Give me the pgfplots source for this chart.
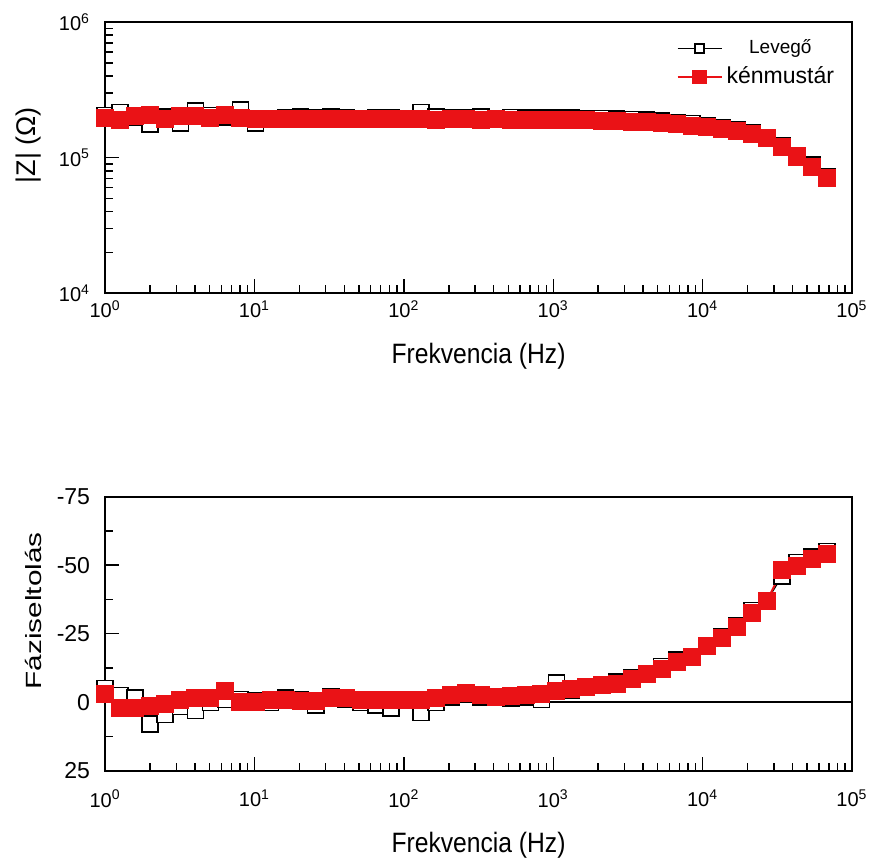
\documentclass[border=0pt]{standalone}
\usepackage{fontspec}
\setmainfont{Liberation Sans}
\newfontfamily\titlefont[FakeStretch=0.88]{Liberation Sans}
\newfontfamily\widefont[FakeStretch=1.35]{Liberation Sans}
\usepackage{pgfplots}
\usepackage{pgfplotstable}
\pgfplotsset{compat=1.18}
\definecolor{mred}{RGB}{234,18,22}

% f (Hz), |Z| air, |Z| mustard, phase air, phase mustard
\pgfplotstableread{
f zA zM pA pM
1 205000 196000 -5 -3
1.261 215000 190000 -2.5 2
1.590 200000 203000 -1.5 2
2.005 178000 208000 8 1.5
2.528 200000 193000 4.5 0.5
3.188 180000 203000 1.5 -1
4.020 220000 202000 3 -1.5
5.069 205000 196000 0 -1.5
6.392 200000 206000 -1 -4
8.060 225000 195000 -1 0
10.16 180000 194000 -0.5 0
12.81 195000 193000 0 -1
16.16 198000 192000 -1.5 -1
20.38 199000 193000 -1 -0.5
25.69 196000 192000 1 -0.5
32.40 200000 193000 -2 -1.5
40.86 198000 192000 -1 -1.5
51.52 195000 192000 0 -1
64.96 196000 193000 1 -1
81.91 197000 192000 2 -1
103.3 194000 193000 -1 -1
130.2 215000 192000 3.7 -1
164.2 200000 191000 0 -1.5
207.1 198000 193000 -2 -2.5
261.1 196000 192000 -3 -3.3
329.3 199000 191000 -2 -2.5
415.2 195000 192000 -2 -2
523.6 198000 191000 -1.5 -2.3
660.2 196000 191000 -2 -2.5
832.5 197000 190000 -1 -3.2
1050 196000 190000 -7 -4.2
1324 196000 189000 -4.5 -5
1669 195000 188000 -5.5 -5.5
2105 194000 187000 -6.5 -6.2
2654 193000 186000 -7.5 -6.8
3347 191000 184000 -9 -8.6
4220 189000 182000 -10.5 -10.4
5321 186000 179000 -13 -12.2
6710 182000 176000 -15.5 -14.8
8461 178000 172000 -16.5 -16.6
10666 173000 168000 -20.5 -20.6
13450 167000 163000 -24 -23.5
16961 160000 157000 -28 -27.5
21387 152000 149000 -33.5 -32.6
26968 141000 139000 -37 -37
34006 122000 120000 -46 -48.1
42880 104000 102000 -51 -49.6
54070 88000 86000 -53 -52.4
68181 72000 71000 -55 -54.2
}\data

\pgfplotsset{every axis/.append style={
    scale only axis, width=373pt,
    xmin=1, xmax=1e5,
    clip=false,
    axis line style={line width=1pt},
    tick align=inside, xtick pos=bottom, ytick pos=left,
    major tick length=7pt, minor tick length=4pt,
    every tick/.style={black, line width=0.7pt},
    xtick={1,10,100,1000,10000,100000},
    minor xtick={2,3,4,5,6,7,8,9,20,30,40,50,60,70,80,90,200,300,400,500,600,700,800,900,2000,3000,4000,5000,6000,7000,8000,9000,20000,30000,40000,50000,60000,70000,80000,90000},
    xticklabels={10\textsuperscript{0},10\textsuperscript{1},10\textsuperscript{2},10\textsuperscript{3},10\textsuperscript{4},10\textsuperscript{5}},
    xticklabel style={font=\fontsize{10}{12}\selectfont},
    yticklabel style={xshift=-4pt},
    xlabel={Frekvencia (Hz)},
    xlabel style={font=\titlefont\fontsize{14}{16}\selectfont, at={(axis description cs:0.5,0)}, anchor=center},
}}

\begin{document}
\begin{tikzpicture}
\useasboundingbox (-52.5pt,-284.5pt) rectangle (384pt,146.5pt);

\begin{loglogaxis}[
  at={(0pt,0pt)}, anchor=south west, height=135.5pt,
  ymin=1e4, ymax=1e6,
  ytick={1e4,1e5,1e6},
  minor ytick={2e4,3e4,4e4,5e4,6e4,7e4,8e4,9e4,2e5,3e5,4e5,5e5,6e5,7e5,8e5,9e5},
  yticklabels={10\textsuperscript{4},10\textsuperscript{5},10\textsuperscript{6}},
  yticklabel style={font=\fontsize{10}{12}\selectfont},
  xlabel style={yshift=-31.5pt},
  ylabel={|Z| (Ω)},
  ylabel style={font=\fontsize{13.5}{15}\selectfont, at={(axis description cs:-0.102,0.546)}, anchor=center},
  legend style={draw=none, fill=none, at={(axis description cs:0.99,0.965)}, anchor=north east,
    row sep=1pt, nodes={inner sep=2pt}},
  legend image code/.code={\draw[mark repeat=2,mark phase=2,#1] plot coordinates {(0pt,0pt) (11pt,0pt) (22pt,0pt)};},
]
\addplot[black, line width=0.6pt, mark=square*, mark size=4pt,
    mark options={fill=white, draw=black, line width=0.8pt},
    legend image post style={mark size=2.3pt}] table[x=f, y=zA] {\data};
\addlegendentry{\fontsize{9.5}{11}\selectfont Levegő}
\addplot[mred, line width=1pt, mark=square*, mark size=4pt,
    mark options={fill=mred, draw=mred},
    legend image post style={mark size=3.2pt}] table[x=f, y=zM] {\data};
\addlegendentry{\fontsize{11.5}{13}\selectfont kénmustár}
\end{loglogaxis}

\begin{semilogxaxis}[
  at={(0pt,-238.5pt)}, anchor=south west, height=137pt,
  y dir=reverse, ymin=-75, ymax=25,
  ytick={-75,-50,-25,0,25},
  minor ytick={-62.5,-37.5,-12.5,12.5},
  yticklabels={-75,-50,-25,0,25},
  yticklabel style={font=\fontsize{11.5}{13}\selectfont},
  xticklabel style={yshift=-6pt},
  xlabel style={yshift=-37pt},
  ylabel={Fáziseltolás},
  ylabel style={font=\widefont\fontsize{11}{13}\selectfont, at={(axis description cs:-0.0965,0.584)}, anchor=center},
]
\addplot[black, line width=1pt, forget plot] coordinates {(1,0) (100000,0)};
\addplot[black, line width=0.6pt, mark=square*, mark size=4pt,
    mark options={fill=white, draw=black, line width=0.8pt}] table[x=f, y=pA] {\data};
\addplot[mred, line width=1pt, mark=square*, mark size=4pt,
    mark options={fill=mred, draw=mred}] table[x=f, y=pM] {\data};
\end{semilogxaxis}
\end{tikzpicture}
\end{document}
